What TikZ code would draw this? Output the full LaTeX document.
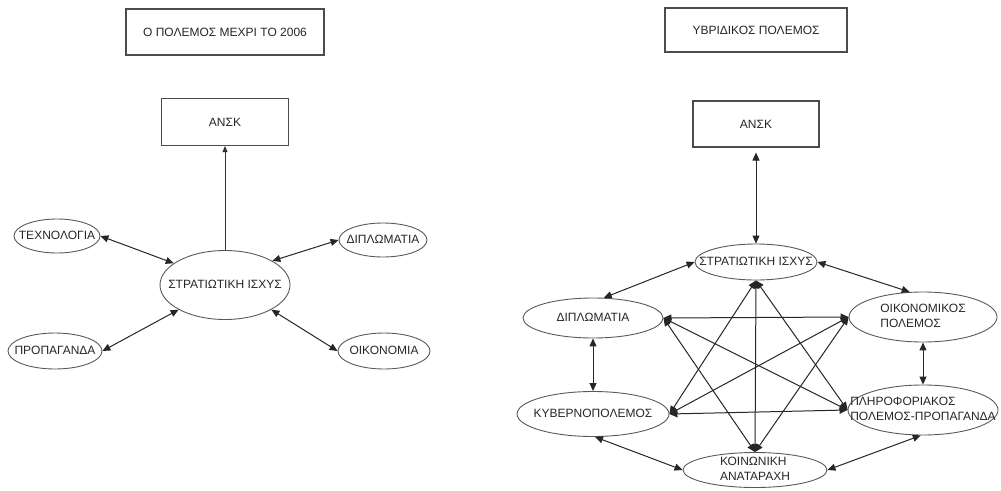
\documentclass[tikz,border=0pt]{standalone}
\usepackage{fontspec}
\setmainfont{Liberation Sans}
\usetikzlibrary{shapes.geometric,arrows.meta}
\newcommand\zt[1]{\makebox[0pt]{\raisebox{-3.2pt}[0pt][0pt]{\begin{tabular}{@{}l@{}}#1\end{tabular}}}}
\begin{document}
\begin{tikzpicture}[x=1pt,y=-1pt,
  font=\fontsize{12}{14.5}\selectfont, text=black!85,
  box/.style={draw=black!70, line width=1.1pt, rectangle, inner sep=0pt},
  ell/.style={draw=black!65, line width=0.9pt, ellipse, inner sep=0pt},
  con/.style={draw=black!85, line width=1pt, {Triangle[length=8pt,width=7pt]}-{Triangle[length=8pt,width=7pt]}},
  one/.style={draw=black!80, line width=0.9pt, -{Triangle[length=6pt,width=5pt]}}]
\path[use as bounding box] (0,0) rectangle (1001,490);
% left diagram
\node[box, minimum width=198, minimum height=46] (t1) at (225,32) {Ο ΠΟΛΕΜΟΣ ΜΕΧΡΙ ΤΟ 2006};
\node[box, minimum width=127, minimum height=47] (a1) at (225,122) {ΑΝΣΚ};
\node[ell, minimum width=130, minimum height=69] (s1) at (225,285) {\zt{ΣΤΡΑΤΙΩΤΙΚΗ ΙΣΧΥΣ}};
\node[ell, minimum width=86, minimum height=34] (tech) at (57,236) {\zt{ΤΕΧΝΟΛΟΓΙΑ}};
\node[ell, minimum width=88, minimum height=34] (dip1) at (383,240) {\zt{ΔΙΠΛΩΜΑΤΙΑ}};
\node[ell, minimum width=94, minimum height=36] (prop) at (55,351) {\zt{ΠΡΟΠΑΓΑΝΔΑ}};
\node[ell, minimum width=92, minimum height=36] (oik1) at (384,351) {\zt{ΟΙΚΟΝΟΜΙΑ}};
\draw[one] (s1.north) -- (a1.south);
\draw[con] (tech.east) -- (s1.157);
\draw[con] (dip1.west) -- (s1.27);
\draw[con] (prop.east) -- (s1.208);
\draw[con] (oik1.west) -- (s1.-28);
% right diagram
\node[box, minimum width=182, minimum height=44] (t2) at (756,30) {ΥΒΡΙΔΙΚΟΣ ΠΟΛΕΜΟΣ};
\node[box, minimum width=126, minimum height=46] (a2) at (756,124) {ΑΝΣΚ};
\node[ell, minimum width=122, minimum height=36] (str) at (756,262) {\zt{ΣΤΡΑΤΙΩΤΙΚΗ ΙΣΧΥΣ}};
\node[ell, minimum width=140, minimum height=40] (dip) at (593,318) {\zt{ΔΙΠΛΩΜΑΤΙΑ}};
\node[ell, minimum width=148, minimum height=50] (oik) at (923,317) {\zt{ΟΙΚΟΝΟΜΙΚΟΣ\\ΠΟΛΕΜΟΣ}};
\node[ell, minimum width=152, minimum height=45] (kyb) at (593,414) {\zt{ΚΥΒΕΡΝΟΠΟΛΕΜΟΣ}};
\node[ell, minimum width=150, minimum height=50] (plh) at (923,410) {\zt{ΠΛΗΡΟΦΟΡΙΑΚΟΣ\\ΠΟΛΕΜΟΣ-ΠΡΟΠΑΓΑΝΔΑ}};
\node[ell, minimum width=144, minimum height=35] (koi) at (755,470) {\zt{ΚΟΙΝΩΝΙΚΗ\\ΑΝΑΤΑΡΑΧΗ}};
\draw[con, shorten >=5pt] (str.north) -- (a2.south);
\draw[con] (str.west) -- (dip.62);
\draw[con] (str.east) -- (oik.118);
\draw[con] (dip.south) -- (kyb.north);
\draw[con] (oik.south) -- (plh.north);
\draw[con] (kyb.-85) -- (koi.west);
\draw[con] (plh.-95) -- (koi.east);
\draw[con] (str.south) -- (koi.north);
\draw[con] (str.south) -- (kyb.east);
\draw[con] (str.south) -- (plh.west);
\draw[con] (dip.east) -- (oik.west);
\draw[con] (dip.east) -- (plh.west);
\draw[con] (dip.east) -- (koi.north);
\draw[con] (oik.west) -- (kyb.east);
\draw[con] (oik.west) -- (koi.north);
\draw[con] (kyb.east) -- (plh.west);
\end{tikzpicture}
\end{document}
